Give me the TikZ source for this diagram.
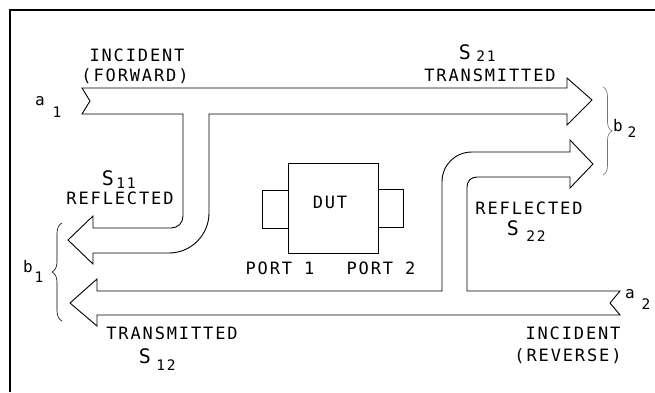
\documentclass[tikz,border=0pt]{standalone}
\usepackage{fontspec}
\usetikzlibrary{decorations.pathreplacing}
\newfontfamily\plotfont{DejaVu Sans Mono}[LetterSpace=11]
\begin{document}
\begin{tikzpicture}[x=1pt,y=-1pt,
  lbl/.style={font=\plotfont\fontsize{17}{18}\selectfont,inner sep=0pt,text height=12pt,text depth=0pt,anchor=center},
  sub/.style={font=\plotfont\fontsize{14.5}{16}\selectfont,inner sep=0pt,text height=10pt,text depth=0pt,anchor=center},
  big/.style={font=\plotfont\fontsize{20}{21}\selectfont,inner sep=0pt,text height=14pt,text depth=0pt,anchor=center},
  var/.style={font=\plotfont\fontsize{16}{17}\selectfont,inner sep=0pt,anchor=center},
  outline/.style={draw=black,line width=0.9pt,line join=miter},
  bracestyle/.style={decorate,decoration={brace,amplitude=#1},line width=0.6pt}]
\useasboundingbox (0,0) rectangle (655,392);
% frame
\draw[line width=1.2pt] (10,392) -- (10,10) -- (655,10);
% forward arrow (a1 -> S21 and S11)
\draw[outline] (82,88) -- (567,88) -- (567,78) -- (592,100) -- (567,125) -- (567,114)
  -- (209,114) -- (209,213) .. controls (209,235) and (191,253) .. (169,253)
  -- (93,253) -- (93,264) -- (68,240) -- (93,216) -- (93,228) -- (171,228)
  .. controls (178,228) and (183,223) .. (183,216) -- (183,114) -- (82,114) -- (90,101) -- cycle;
% reverse arrow (a2 -> S12 and S22)
\draw[outline] (620,291) -- (467,291) -- (467,187) .. controls (467,181) and (471,177) .. (477,177)
  -- (570,177) -- (570,188) -- (593,164) -- (570,140) -- (570,152) -- (472,152)
  .. controls (455,152) and (442,165) .. (442,182) -- (442,291) -- (97,291) -- (97,279)
  -- (70,303) -- (97,326) -- (97,315) -- (620,315) -- (610,303) -- cycle;
% DUT
\draw[outline] (262,190) rectangle (288,228);
\draw[outline] (378,189) rectangle (403,227);
\draw[outline,fill=white] (288,163) rectangle (378,253);
\node[lbl] (dut) at (330,202) {DUT};
\node[lbl] (p1) at (280,268) {PORT 1};
\node[lbl] (p2) at (381,268) {PORT 2};
% braces
\coordinate (b2top) at (603,87);
\coordinate (b2bot) at (603,175);
\draw[bracestyle=9pt,draw=black!55] (b2top) -- (b2bot);
\coordinate (b1bot) at (62,321);
\coordinate (b1top) at (62,223);
\draw[bracestyle=10pt] (b1bot) -- (b1top);
% labels
\node[lbl] (inc1) at (137,55) {INCIDENT};
\node[lbl] (fwd) at (135,75) {(FORWARD)};
\node[var] (a1) at (40,101) {a};
\node[sub] (a1s) at (57,112) {1};
\node[big] (s11) at (108,178) {S};
\node[sub] (s11s) at (126,183) {11};
\node[lbl] (refl1) at (120,198) {REFLECTED};
\node[big] (s21) at (465,52) {S};
\node[sub] (s21s) at (486,56) {21};
\node[lbl] (tr1) at (490,75) {TRANSMITTED};
\node[var] (b2) at (618,126) {b};
\node[sub] (b2s) at (632,132) {2};
\node[lbl] (refl2) at (529,208) {REFLECTED};
\node[big] (s22) at (513,228) {S};
\node[sub] (s22s) at (536,236) {22};
\node[var] (b1) at (28,267) {b};
\node[sub] (b1s) at (39,277) {1};
\node[var] (a2) at (630,294) {a};
\node[sub] (a2s) at (646,304) {2};
\node[lbl] (tr2) at (172,333) {TRANSMITTED};
\node[big] (s12) at (145,356) {S};
\node[sub] (s12s) at (166,365) {12};
\node[lbl] (inc2) at (573,333) {INCIDENT};
\node[lbl] (rev) at (568,355) {(REVERSE)};
\end{tikzpicture}
\end{document}
